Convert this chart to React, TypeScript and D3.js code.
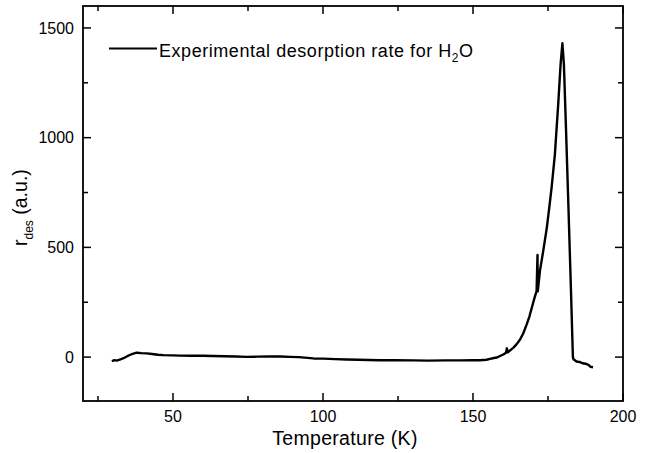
import React from "react";
import * as d3 from "d3";

const temps: number[] = [
  29.6, 30.5, 31.2, 32.5, 33.5, 34.6, 36, 37.9, 39.5, 41.2, 43, 45, 46.8, 50, 52.3, 56, 60, 63.4, 67, 71,
  74.6, 78, 82, 85.7, 89, 92, 96.8, 100, 104, 107.9, 112, 115, 119, 124, 130, 135, 141, 146, 150, 152.3,
  154.5, 155.7, 157, 157.9, 159, 160.1, 161, 161.3, 161.6, 162.5, 163.4, 164.5, 165.7, 166.8, 167.9, 168.8,
  169.6, 170.5, 171.2, 171.5, 171.6, 172.3, 173.4, 174.6, 175.5, 176.2, 177.3, 178.4, 179.2, 179.8, 180.3,
  181.0, 181.8, 182.6, 183.3, 183.5, 184.5, 185.5, 186.5, 187.5, 188.5, 189.2, 190.0,
];
const rates: number[] = [
  -18, -14, -16, -10, -5, 3, 12, 20, 18, 17, 14, 11, 9, 8, 7, 6, 6, 5, 4, 3,
  1, 2, 3, 3, 1, 0, -6, -7, -9, -11, -12, -13, -14, -14, -15, -16, -15, -15, -14, -14,
  -12, -8, -4, -2, 5, 12, 20, 40, 22, 32, 42, 58, 80, 110, 149, 185,
  225, 270, 301, 465, 300, 392, 483, 589, 690, 772, 924, 1152, 1334, 1430, 1334,
  1040, 690, 330, 0, -10, -20, -22, -28, -30, -35, -44, -46,
];

const xMajor: number[] = [50, 100, 150, 200];
const xMinor: number[] = [25, 75, 125, 175];
const yMajor: number[] = [0, 500, 1000, 1500];
const yMinor: number[] = [250, 750, 1250];

const xTitle = "Temperature (K)";
const legendLabel = "Experimental desorption rate for H";

const W = 654, H = 453;
const L = 83, R = 623, T = 6, B = 401;
const FONT = "'Liberation Sans', Arial, sans-serif";

export default function App() {
  const x = d3.scaleLinear().domain([20, 200]).range([L, R]);
  const y = d3.scaleLinear().domain([-200, 1600]).range([B, T]);
  const pts: [number, number][] = temps.map((t, i) => [t, rates[i]]);
  const line = d3.line<[number, number]>().x(d => x(d[0])).y(d => y(d[1]));
  const maj = 8, min = 5;
  return (
    <svg width={W} height={H} style={{ position: "absolute", left: 0, top: 0, background: "#fff" }} fontFamily={FONT}>
      <rect x={0} y={0} width={W} height={H} fill="#fff" />
      <path d={line(pts) || ""} fill="none" stroke="#000" strokeWidth={2.4} strokeLinejoin="round" />
      <rect x={L} y={T} width={R - L} height={B - T} fill="none" stroke="#000" strokeWidth={1.8} />
      {xMajor.map(v => (
        <g key={"xm" + v}>
          <line x1={x(v)} x2={x(v)} y1={B} y2={B - maj} stroke="#000" strokeWidth={1.5} />
          <line x1={x(v)} x2={x(v)} y1={T} y2={T + maj} stroke="#000" strokeWidth={1.5} />
          <text x={x(v)} y={422} textAnchor="middle" fontSize={16} fill="#000">{v}</text>
        </g>
      ))}
      {xMinor.map(v => (
        <g key={"xn" + v}>
          <line x1={x(v)} x2={x(v)} y1={B} y2={B - min} stroke="#000" strokeWidth={1.5} />
          <line x1={x(v)} x2={x(v)} y1={T} y2={T + min} stroke="#000" strokeWidth={1.5} />
        </g>
      ))}
      {yMajor.map(v => (
        <g key={"ym" + v}>
          <line x1={L} x2={L + maj} y1={y(v)} y2={y(v)} stroke="#000" strokeWidth={1.5} />
          <line x1={R} x2={R - maj} y1={y(v)} y2={y(v)} stroke="#000" strokeWidth={1.5} />
          <text x={74} y={y(v) + 5.7} textAnchor="end" fontSize={16} fill="#000">{v}</text>
        </g>
      ))}
      {yMinor.map(v => (
        <g key={"yn" + v}>
          <line x1={L} x2={L + min} y1={y(v)} y2={y(v)} stroke="#000" strokeWidth={1.5} />
          <line x1={R} x2={R - min} y1={y(v)} y2={y(v)} stroke="#000" strokeWidth={1.5} />
        </g>
      ))}
      <text x={345} y={445} textAnchor="middle" fontSize={19.5} letterSpacing={0.3} fill="#000">{xTitle}</text>
      <text transform="translate(27,246) rotate(-90)" fontSize={19.5} fill="#000">
        <tspan>r</tspan>
        <tspan fontSize={12} dy={6}>des</tspan>
        <tspan dy={-6}> (a.u.)</tspan>
      </text>
      <line x1={109} x2={157} y1={48.5} y2={48.5} stroke="#000" strokeWidth={2.2} />
      <text x={159} y={57} fontSize={18} letterSpacing={0.55} fill="#000">
        <tspan>{legendLabel}</tspan>
        <tspan fontSize={12} dy={5}>2</tspan>
        <tspan dy={-5}>O</tspan>
      </text>
    </svg>
  );
}
